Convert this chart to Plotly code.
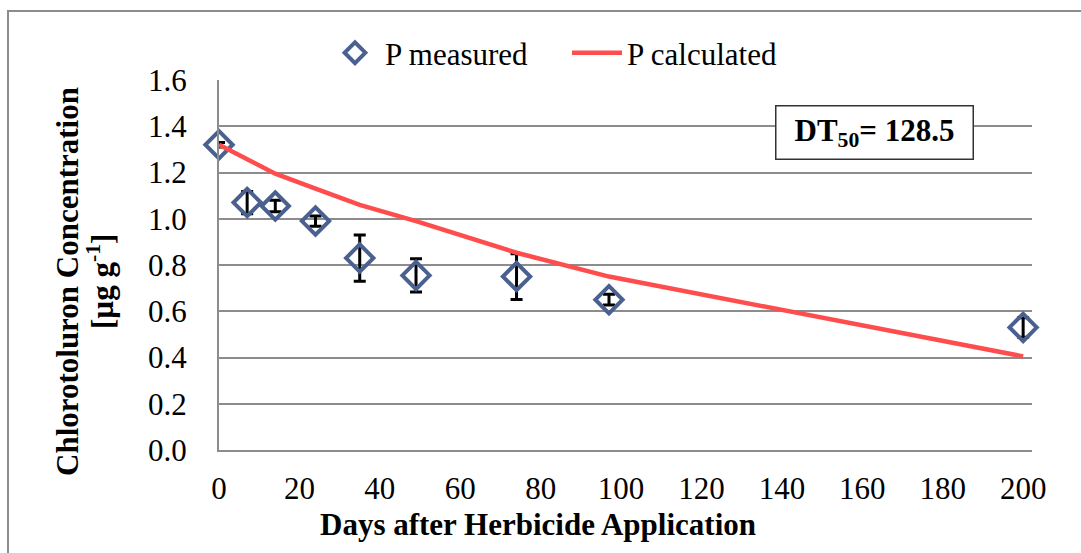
import plotly.graph_objects as go

# Sampling days after herbicide application
days = [0, 7, 14, 24, 35, 49, 74, 97, 200]

# Measured chlorotoluron concentration [µg g-1] and standard deviation
measured = [1.32, 1.07, 1.055, 0.99, 0.83, 0.755, 0.75, 0.65, 0.53]
measured_sd = [0.01, 0.048, 0.025, 0.022, 0.10, 0.072, 0.099, 0.023, 0.042]

# Model-calculated concentration at the same days
calculated = [1.32, 1.255, 1.195, 1.13, 1.06, 0.99, 0.853, 0.75, 0.405]

y_ticks = [0.0, 0.2, 0.4, 0.6, 0.8, 1.0, 1.2, 1.4, 1.6]
x_ticks = [0, 20, 40, 60, 80, 100, 120, 140, 160, 180, 200]

dt50_label = "<b>DT<sub>50</sub>= 128.5</b>"

FONT = "Liberation Serif"
GRID = "#8c8c8c"

W, H = 1081, 553
ML, MR, MT, MB = 219, 49, 80, 103
PW, PH = W - ML - MR, H - MT - MB


def px(x):
    return (x - ML) / PW


def py(y):
    return (H - MB - y) / PH


fig = go.Figure()

fig.add_trace(go.Scatter(
    x=days, y=measured, mode="markers", name="P measured",
    cliponaxis=False,
    marker=dict(symbol="diamond-open", size=21, color="#4a6190",
                line=dict(width=4, color="#4a6190")),
    error_y=dict(type="data", array=measured_sd, visible=True,
                 color="black", thickness=3, width=6),
))

fig.add_trace(go.Scatter(
    x=days, y=calculated, mode="lines", name="P calculated",
    cliponaxis=False,
    line=dict(color="#ff4d4d", width=4.5),
))

# outer chart frame
fig.add_shape(type="rect", xref="paper", yref="paper",
              x0=px(8), x1=px(1090), y0=py(560), y1=py(11),
              line=dict(color="#8c8c8c", width=2), layer="above")

# DT50 text box
fig.add_annotation(
    xref="paper", yref="paper", x=px(874), y=py(132),
    text=dt50_label, showarrow=False,
    font=dict(family=FONT, size=31, color="black"),
    bgcolor="white", bordercolor="#333333", borderwidth=1.5,
    width=194, height=50, xanchor="center", yanchor="middle",
)

# axis titles
fig.add_annotation(
    xref="paper", yref="paper", x=px(538), y=py(524),
    text="<b>Days after Herbicide Application</b>", showarrow=False,
    font=dict(family=FONT, size=31, color="black"),
    xanchor="center", yanchor="middle",
)
fig.add_annotation(
    xref="paper", yref="paper", x=px(67), y=py(282),
    text="<b>Chlorotoluron Concentration</b>", showarrow=False,
    textangle=-90, font=dict(family=FONT, size=31, color="black"),
    xanchor="center", yanchor="middle",
)
fig.add_annotation(
    xref="paper", yref="paper", x=px(100), y=py(282),
    text="<b>[µg g<sup>-1</sup>]</b>", showarrow=False,
    textangle=-90, font=dict(family=FONT, size=31, color="black"),
    xanchor="center", yanchor="middle",
)

fig.update_layout(
    width=W, height=H,
    margin=dict(l=ML, r=MR, t=MT, b=MB, pad=0),
    paper_bgcolor="white", plot_bgcolor="white",
    font=dict(family=FONT, size=31, color="black"),
    showlegend=True,
    legend=dict(orientation="h", x=px(325), y=py(53), xanchor="left",
                yanchor="middle", bgcolor="rgba(0,0,0,0)",
                font=dict(family=FONT, size=31, color="black"),
                itemwidth=50, entrywidth=177, entrywidthmode="pixels",
                traceorder="normal"),
    xaxis=dict(range=[0, 202.2], tickvals=x_ticks, showgrid=False,
               showline=True, linecolor=GRID, linewidth=2, zeroline=False,
               ticks="", ticklabelstandoff=10,
               tickfont=dict(family=FONT, size=31, color="black")),
    yaxis=dict(range=[0, 1.6], tickvals=y_ticks, tickformat=".1f",
               showgrid=True, gridcolor=GRID, gridwidth=2,
               showline=True, linecolor=GRID, linewidth=2, zeroline=False,
               ticks="", ticklabelstandoff=24,
               tickfont=dict(family=FONT, size=31, color="black")),
)

fig.write_html("out.html")
